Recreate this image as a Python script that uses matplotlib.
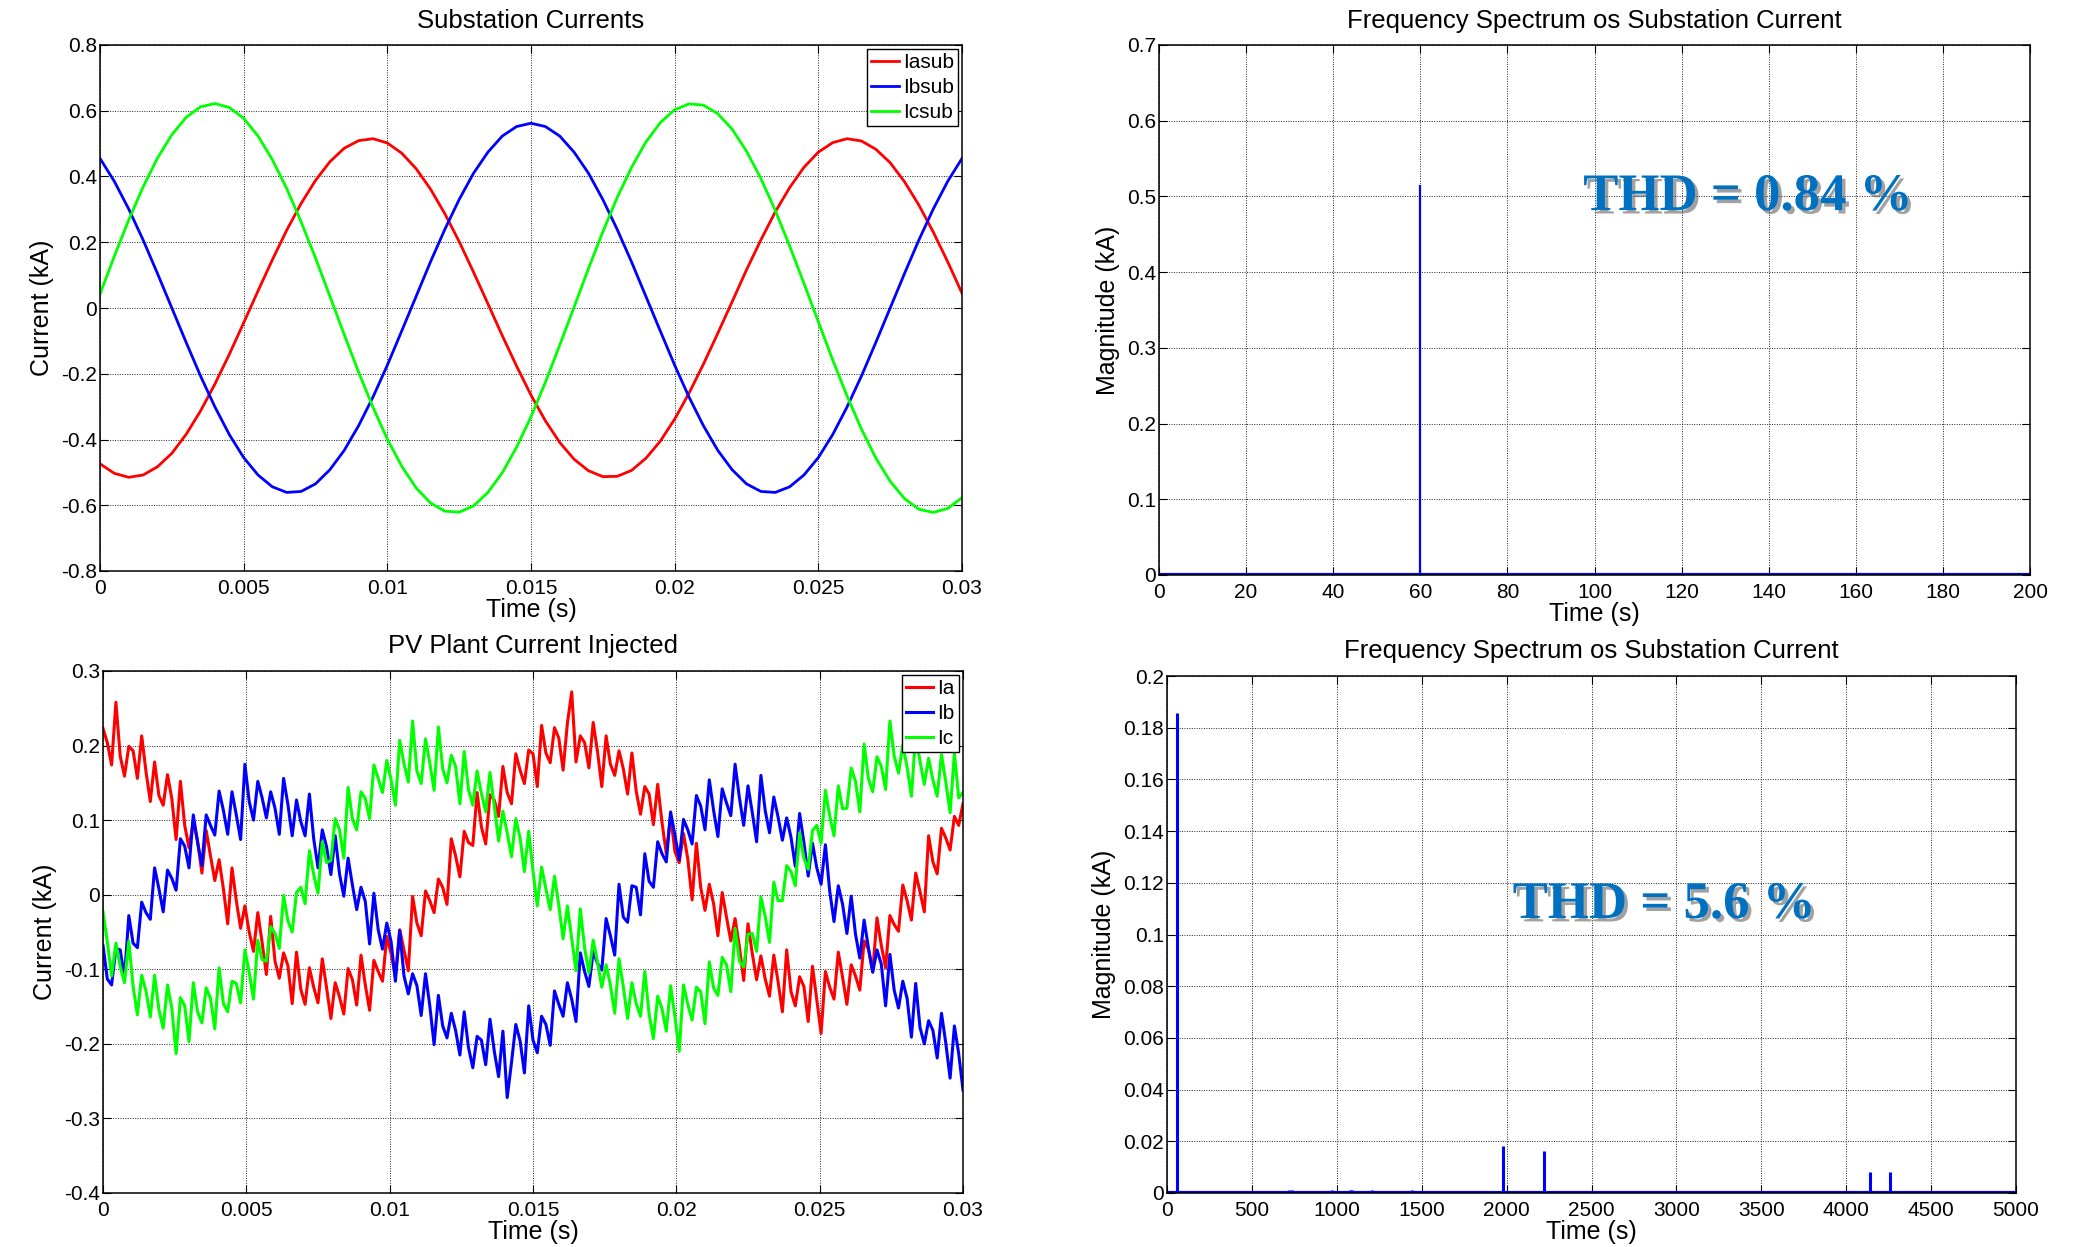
import numpy as np
import matplotlib
matplotlib.use("Agg")
import matplotlib.pyplot as plt
from matplotlib import patheffects as pe

plt.rcParams['font.family'] = ['Liberation Sans', 'DejaVu Sans']

# ---------------- data ----------------
# Substation currents, in amperes, sampled every 0.5 ms from 0 to 0.03 s
t_sub = np.linspace(0, 0.03, 61)
ia_sub_amps = [-474, -503, -515, -508, -483, -442, -384, -313, -231, -141, -45, 52, 147, 237, 318, 388,
               445, 486, 509, 515, 502, 471, 424, 362, 287, 202, 109, 13, -84, -177, -265, -343, -409,
               -460, -495, -513, -512, -494, -457, -405, -338, -259, -171, -77, 19, 116, 207, 292, 366,
               428, 474, 503, 515, 508, 483, 442, 384, 313, 231, 141, 45]
ib_sub_amps = [455, 385, 301, 207, 105, 0, -105, -207, -301, -385, -455, -508, -544, -561, -558, -535,
               -492, -433, -358, -271, -174, -70, 35, 140, 239, 330, 410, 474, 523, 552, 562, 552, 523,
               474, 410, 330, 239, 140, 35, -70, -174, -271, -358, -433, -492, -535, -558, -561, -544,
               -508, -455, -385, -301, -207, -105, 0, 105, 207, 301, 385, 455]
ic_sub_amps = [42, 158, 268, 368, 456, 527, 580, 612, 622, 610, 577, 523, 451, 363, 262, 152, 36, -81,
               -195, -302, -399, -481, -547, -593, -618, -621, -602, -561, -501, -423, -331, -226, -113,
               3, 120, 232, 336, 428, 505, 564, 603, 621, 617, 591, 544, 477, 394, 297, 189, 75, -42,
               -158, -268, -368, -456, -527, -580, -612, -622, -610, -577]
sub_labels = ['Iasub', 'Ibsub', 'Icsub']

# PV plant injected currents, in amperes, sampled every 0.15 ms from 0 to 0.03 s
t_pv = np.linspace(0, 0.03, 201)
ia_pv_amps = [223, 204, 174, 258, 186, 159, 199, 193, 156, 213, 165, 125, 178, 133, 120, 161, 129, 74,
              152, 93, 63, 98, 72, 29, 86, 52, 19, 47, 8, -39, 36, -8, -45, -15, -50, -76, -24, -64, -107,
              -29, -89, -112, -78, -95, -146, -77, -127, -147, -98, -124, -145, -86, -125, -166,
              -118, -137, -160, -99, -114, -148, -81, -121, -155, -88, -103, -116, -56, -79, -109,
              -47, -74, -102, -2, -38, -55, 5, -8, -24, 21, 10, -13, 75, 52, 24, 85, 70, 66, 137, 91, 68,
              134, 127, 105, 172, 137, 122, 189, 167, 149, 194, 189, 145, 227, 190, 177, 224, 210, 167,
              230, 272, 178, 213, 204, 170, 231, 192, 145, 213, 175, 160, 193, 169, 135, 190, 139, 108,
              145, 135, 94, 148, 97, 55, 106, 58, 43, 82, 48, -7, 69, 10, -21, 14, -12, -55, 3, -30, -62,
              -32, -70, -115, -39, -79, -114, -82, -113, -136, -81, -117, -157, -74, -130, -149,
              -110, -123, -170, -96, -141, -186, -103, -124, -140, -77, -111, -147, -94, -109, -128,
              -62, -73, -103, -31, -68, -98, -28, -40, -49, 13, -8, -34, 29, 4, -23, 79, 44, 28,
              89, 76, 60, 105, 93, 122]
ib_pv_amps = [-68, -113, -121, -72, -74, -111, -28, -65, -71, -10, -24, -33, 36, 8, -23, 33, 22, 6,
              75, 65, 36, 107, 70, 39, 107, 93, 80, 139, 113, 81, 138, 107, 74, 175, 125, 100,
              152, 130, 103, 138, 116, 81, 156, 121, 79, 127, 98, 79, 135, 75, 36, 87, 64, 27,
              79, 28, -2, 49, 13, -20, 10, -9, -66, 2, -47, -73, -38, -63, -116, -48, -109, -133,
              -106, -122, -162, -106, -149, -201, -135, -176, -192, -159, -182, -215, -157, -205, -232,
              -190, -195, -228, -167, -210, -244, -183, -272, -225, -174, -196, -239, -149, -195, -212,
              -163, -174, -202, -129, -147, -163, -118, -140, -170, -78, -103, -123, -76, -92, -101,
              -32, -55, -81, 14, -30, -37, 12, 10, -27, 55, 18, 10, 71, 55, 44, 111, 80, 47,
              101, 87, 68, 133, 119, 87, 154, 113, 78, 142, 123, 106, 175, 130, 93, 146, 110, 71,
              160, 113, 83, 131, 104, 73, 103, 77, 38, 109, 70, 25, 69, 36, 14, 67, 5, -36,
              12, -13, -52, -2, -53, -85, -34, -71, -104, -74, -93, -149, -80, -128, -152,
              -116, -139, -191, -119, -178, -200, -169, -182, -219, -159, -199, -246, -176, -213, -262]
ic_pv_amps = [-23, -63, -109, -65, -96, -118, -62, -123, -161, -108, -129, -164, -108, -154, -179,
              -121, -152, -213, -138, -149, -197, -118, -157, -172, -125, -139, -180, -98, -146, -157,
              -116, -119, -145, -74, -104, -140, -61, -87, -89, -43, -52, -72, -1, -35, -50, 3, 10, -12,
              59, 27, 2, 71, 43, 46, 102, 87, 49, 144, 102, 87, 138, 129, 102, 174, 156, 137,
              180, 154, 120, 207, 176, 151, 233, 166, 149, 209, 177, 140, 225, 169, 150, 187, 172, 122,
              192, 141, 120, 166, 136, 111, 164, 119, 72, 112, 83, 51, 102, 76, 31, 85, 32, -15,
              37, 8, -20, 25, -14, -59, -15, -58, -102, -19, -71, -105, -61, -90, -124, -94, -121, -159,
              -86, -123, -166, -118, -146, -163, -103, -160, -193, -136, -153, -183, -122, -163, -210,
              -121, -147, -168, -124, -130, -173, -90, -125, -135, -84, -94, -130, -45, -89, -97,
              -53, -52, -76, -3, -29, -64, 17, -8, -8, 39, 31, 12, 83, 49, 34, 86, 93, 69,
              140, 106, 79, 146, 115, 116, 170, 152, 111, 202, 156, 138, 185, 172, 141, 233, 186, 163,
              201, 171, 132, 215, 179, 148, 183, 154, 132, 188, 151, 110, 190, 130, 137]
pv_labels = ['Ia', 'Ib', 'Ic']

# Spectrum of substation current (Hz, kA)
sub_spec_freq = [60]
sub_spec_mag = [0.515]
sub_thd = 'THD = 0.84 %'

# Spectrum of PV plant current (Hz, kA)
pv_spec_freq = [60, 223, 591, 720, 735, 835, 850, 960, 972, 1078, 1090, 1209, 1445, 1567, 1857,
                1980, 2220, 2340, 2995, 3896, 4140, 4260, 4500]
pv_spec_mag = [0.1855, 0.0008, 0.0006, 0.0012, 0.0010, 0.0009, 0.0009, 0.0008, 0.0010, 0.0011, 0.0012,
               0.0011, 0.0012, 0.0009, 0.0008, 0.0183, 0.0162, 0.0006, 0.0007, 0.0006, 0.0082, 0.0080,
               0.0005]
pv_thd = 'THD = 5.6 %'

# ticks
t_ticks = [0, 0.005, 0.01, 0.015, 0.02, 0.025, 0.03]
t_ticklabels = ['0', '0.005', '0.01', '0.015', '0.02', '0.025', '0.03']
sub_yticks = [-0.8, -0.6, -0.4, -0.2, 0, 0.2, 0.4, 0.6, 0.8]
sub_yticklabels = ['-0.8', '-0.6', '-0.4', '-0.2', '0', '0.2', '0.4', '0.6', '0.8']
pv_yticks = [-0.4, -0.3, -0.2, -0.1, 0, 0.1, 0.2, 0.3]
pv_yticklabels = ['-0.4', '-0.3', '-0.2', '-0.1', '0', '0.1', '0.2', '0.3']
f1_ticks = [0, 20, 40, 60, 80, 100, 120, 140, 160, 180, 200]
f1_ticklabels = [str(v) for v in f1_ticks]
m1_ticks = [0, 0.1, 0.2, 0.3, 0.4, 0.5, 0.6, 0.7]
m1_ticklabels = ['0', '0.1', '0.2', '0.3', '0.4', '0.5', '0.6', '0.7']
f2_ticks = [0, 500, 1000, 1500, 2000, 2500, 3000, 3500, 4000, 4500, 5000]
f2_ticklabels = [str(v) for v in f2_ticks]
m2_ticks = [0, 0.02, 0.04, 0.06, 0.08, 0.1, 0.12, 0.14, 0.16, 0.18, 0.2]
m2_ticklabels = ['0', '0.02', '0.04', '0.06', '0.08', '0.1', '0.12', '0.14', '0.16', '0.18', '0.2']

RED, BLUE, GREEN = '#FF0000', '#0000FF', '#00FF00'
THD_COLOR = '#0070C0'

W, H = 2084, 1247
fig = plt.figure(figsize=(W / 100, H / 100), dpi=100)
fig.patch.set_facecolor('white')


def make_axes(l, t, r, b):
    return fig.add_axes([l / W, 1 - b / H, (r - l) / W, (b - t) / H])


def style(ax, xlim, ylim, xt, xtl, yt, ytl, title, ylabel, title_pad):
    ax.set_xlim(*xlim)
    ax.set_ylim(*ylim)
    ax.set_xticks(xt)
    ax.set_xticklabels(xtl)
    ax.set_yticks(yt)
    ax.set_yticklabels(ytl)
    ax.grid(True, color='#222222', linestyle=(0, (1, 1.5)), linewidth=0.7)
    ax.set_axisbelow(True)
    ax.tick_params(direction='in', top=True, right=True, length=6, width=0.8, labelsize=15)
    ax.tick_params(axis='x', pad=6)
    ax.tick_params(axis='y', pad=2)
    for sp in ax.spines.values():
        sp.set_linewidth(1.1)
        sp.set_color('black')
    ax.set_title(title, fontsize=18.5, pad=title_pad)
    ax.set_xlabel('Time (s)', fontsize=18, labelpad=0)
    ax.set_ylabel(ylabel, fontsize=18, labelpad=5)


def legend(ax):
    leg = ax.legend(loc='upper right', fontsize=15, frameon=True, fancybox=False, framealpha=1,
                    edgecolor='black', borderaxespad=0.2, handlelength=1.3, handletextpad=0.2,
                    labelspacing=0.28, borderpad=0.2)
    leg.get_frame().set_linewidth(1.0)


# --- top left: substation currents
ax1 = make_axes(100, 45, 962, 571)
ax1.plot(t_sub, np.array(ia_sub_amps) / 1000, color=RED, lw=2.0, label=sub_labels[0])
ax1.plot(t_sub, np.array(ib_sub_amps) / 1000, color=BLUE, lw=2.0, label=sub_labels[1])
ax1.plot(t_sub, np.array(ic_sub_amps) / 1000, color=GREEN, lw=2.0, label=sub_labels[2])
style(ax1, (0, 0.03), (-0.8, 0.8), t_ticks, t_ticklabels, sub_yticks, sub_yticklabels,
      'Substation Currents', 'Current (kA)', 12)
legend(ax1)

# --- bottom left: PV currents
ax3 = make_axes(103, 671, 963, 1193)
ax3.plot(t_pv, np.array(ia_pv_amps) / 1000, color=RED, lw=2.2, label=pv_labels[0])
ax3.plot(t_pv, np.array(ib_pv_amps) / 1000, color=BLUE, lw=2.2, label=pv_labels[1])
ax3.plot(t_pv, np.array(ic_pv_amps) / 1000, color=GREEN, lw=2.2, label=pv_labels[2])
style(ax3, (0, 0.03), (-0.4, 0.3), t_ticks, t_ticklabels, pv_yticks, pv_yticklabels,
      'PV Plant Current Injected', 'Current (kA)', 13)
legend(ax3)

shadow = [pe.SimplePatchShadow(offset=(2.5, -2.5), shadow_rgbFace='#555555', alpha=0.55), pe.Normal()]

# --- top right: substation spectrum
ax2 = make_axes(1159, 45, 2030, 575)
ax2.vlines(sub_spec_freq, 0, sub_spec_mag, color=BLUE, lw=1.6)
ax2.axhline(0, color=BLUE, lw=3.0)
style(ax2, (0, 200), (0, 0.7), f1_ticks, f1_ticklabels, m1_ticks, m1_ticklabels,
      'Frequency Spectrum os Substation Current', 'Magnitude (kA)', 12)
ax2.text(135.2, 0.482, sub_thd, fontsize=38, fontweight='bold',
         family=['Liberation Serif', 'DejaVu Serif'], color=THD_COLOR,
         ha='center', va='baseline', path_effects=shadow)

# --- bottom right: PV spectrum
ax4 = make_axes(1167, 676, 2016, 1193)
ax4.vlines(pv_spec_freq, 0, pv_spec_mag, color=BLUE, lw=2.2)
ax4.axhline(0, color=BLUE, lw=3.0)
style(ax4, (0, 5000), (0, 0.2), f2_ticks, f2_ticklabels, m2_ticks, m2_ticklabels,
      'Frequency Spectrum os Substation Current', 'Magnitude (kA)', 13)
ax4.text(2927, 0.1064, pv_thd, fontsize=38, fontweight='bold',
         family=['Liberation Serif', 'DejaVu Serif'], color=THD_COLOR,
         ha='center', va='baseline', path_effects=shadow)

fig.savefig('out.png', dpi=100, facecolor='white')
